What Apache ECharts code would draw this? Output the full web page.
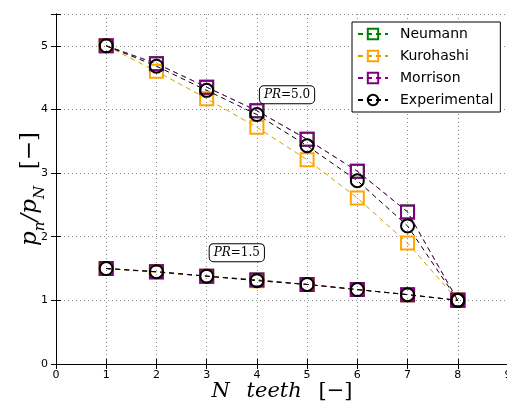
<!DOCTYPE html>
<html>
<head>
<meta charset="utf-8">
<script src="https://cdn.jsdelivr.net/npm/echarts@6/dist/echarts.min.js"></script>
<style>
  html, body { margin: 0; padding: 0; background: #fff; }
  #chart { width: 507px; height: 407px; }
</style>
</head>
<body>
<div id="chart"></div>
<script>
// Number of teeth
const teeth = [1, 2, 3, 4, 5, 6, 7, 8];

// Pressure ratio PR = 5.0
const neumann50     = [5.00, 4.72, 4.35, 3.98, 3.53, 3.03, 2.39, 1.00];
const kurohashi50   = [5.00, 4.60, 4.17, 3.72, 3.21, 2.61, 1.90, 1.00];
const morrison50    = [5.00, 4.72, 4.35, 3.98, 3.53, 3.03, 2.39, 1.00];
const experiment50  = [5.00, 4.68, 4.30, 3.92, 3.43, 2.88, 2.17, 1.00];

// Pressure ratio PR = 1.5
const neumann15     = [1.50, 1.45, 1.38, 1.32, 1.25, 1.17, 1.09, 1.00];
const kurohashi15   = [1.50, 1.44, 1.38, 1.31, 1.25, 1.17, 1.09, 1.00];
const morrison15    = [1.50, 1.45, 1.38, 1.32, 1.25, 1.17, 1.09, 1.00];
const experiment15  = [1.50, 1.45, 1.38, 1.31, 1.25, 1.17, 1.09, 1.00];

const xTicks = [0, 1, 2, 3, 4, 5, 6, 7, 8, 9];
const yTicks = [0, 1, 2, 3, 4, 5];

const pairs = (ys) => teeth.map((x, i) => [x, ys[i]]);

const models = [
  { name: 'Neumann',      sets: [neumann50, neumann15],       line: '#008000', edge: '#008000', symbol: 'rect' },
  { name: 'Kurohashi',    sets: [kurohashi50, kurohashi15],   line: '#d4a000', edge: '#ffa500', symbol: 'rect' },
  { name: 'Morrison',     sets: [morrison50, morrison15],     line: '#800080', edge: '#800080', symbol: 'rect' },
  { name: 'Experimental', sets: [experiment50, experiment15], line: '#000000', edge: '#000000', symbol: 'circle' }
];

const series = [];
models.forEach((m) => {
  m.sets.forEach((ys) => {
    series.push({
      name: m.name,
      type: 'line',
      data: pairs(ys),
      symbol: m.symbol,
      symbolSize: 13,
      showAllSymbol: true,
      lineStyle: { color: m.line, width: 1, type: [5, 4] },
      itemStyle: { color: 'rgba(255,255,255,0)', borderColor: m.edge, borderWidth: 2 },
      emphasis: { disabled: true },
      animation: false,
      z: 2
    });
  });
});

const serif = '"DejaVu Serif", "Liberation Serif", serif';
const sans = '"DejaVu Sans", sans-serif';

const chart = echarts.init(document.getElementById('chart'));

const axisLineStyle = { lineStyle: { color: '#000', width: 1 } };

chart.setOption({
  backgroundColor: '#fff',
  animation: false,
  grid: { left: 56, top: 14, width: 452, height: 350, containLabel: false, outerBoundsMode: 'none' },
  legend: {
    orient: 'vertical',
    left: 352,
    top: 22,
    backgroundColor: '#fff',
    borderColor: '#000',
    borderWidth: 1,
    borderRadius: 0,
    padding: [5, 7, 5, 5],
    itemGap: 8,
    itemWidth: 30,
    itemHeight: 13,
    textStyle: { fontFamily: sans, fontSize: 14, color: '#000', padding: [0, 0, 0, 7] },
    data: models.map((m) => m.name)
  },
  xAxis: [
    {
      type: 'value', min: 0, max: 9, interval: 1,
      name: '{i|N}{g|     }{i|teeth}{g|     }{r|[−]}',
      nameLocation: 'middle', nameGap: 17, nameMoveOverlap: false,
      nameTextStyle: {
        rich: {
          i: { fontFamily: serif, fontStyle: 'italic', fontSize: 21, color: '#000' },
          r: { fontFamily: serif, fontSize: 21, color: '#000' },
          g: { fontSize: 12 }
        }
      },
      axisLine: axisLineStyle,
      axisTick: { inside: true, length: 5, lineStyle: { color: '#000' } },
      axisLabel: { fontFamily: sans, fontSize: 11, color: '#000', margin: 6 },
      splitLine: { show: true, lineStyle: { color: '#888', width: 1, type: [1, 3] } }
    },
    {
      type: 'value', min: 0, max: 9, interval: 1, position: 'top',
      axisLine: axisLineStyle,
      axisTick: { inside: true, length: 5, lineStyle: { color: '#000' } },
      axisLabel: { show: false },
      splitLine: { show: false }
    }
  ],
  yAxis: [
    {
      type: 'value', min: 0, max: 5.5, interval: 1,
      name: '{i|p}{s|n}{i|/p}{s|N}{g|     }{r|[−]}',
      nameLocation: 'middle', nameGap: 14, nameRotate: 90, nameMoveOverlap: false,
      nameTextStyle: {
        rich: {
          i: { fontFamily: serif, fontStyle: 'italic', fontSize: 23, color: '#000', verticalAlign: 'bottom' },
          s: { fontFamily: serif, fontStyle: 'italic', fontSize: 15, color: '#000', verticalAlign: 'bottom', padding: [0, 0, -6, 0] },
          r: { fontFamily: serif, fontSize: 23, color: '#000', verticalAlign: 'bottom' },
          g: { fontSize: 12 }
        }
      },
      axisLine: axisLineStyle,
      axisTick: { inside: true, length: 5, lineStyle: { color: '#000' } },
      axisLabel: {
        fontFamily: sans, fontSize: 11, color: '#000', margin: 8,
        formatter: (v) => (yTicks.indexOf(v) >= 0 ? String(v) : '')
      },
      splitLine: { show: true, lineStyle: { color: '#888', width: 1, type: [1, 3] } }
    },
    {
      type: 'value', min: 0, max: 5.5, interval: 1, position: 'right',
      axisLine: axisLineStyle,
      axisTick: { inside: true, length: 5, lineStyle: { color: '#000' } },
      axisLabel: { show: false },
      splitLine: { show: false }
    }
  ],
  series: series
});

// Pressure-ratio annotations placed in data coordinates
const notes = [
  { x: 4.6, y: 4.23, text: '5.0' },
  { x: 3.6, y: 1.75, text: '1.5' }
];
chart.setOption({
  graphic: notes.map((n) => {
    const p = chart.convertToPixel({ xAxisIndex: 0, yAxisIndex: 0 }, [n.x, n.y]);
    return {
      type: 'text',
      x: p[0], y: p[1], z: 10,
      style: {
        text: '{i|PR}{r|=' + n.text + '}',
        align: 'center', verticalAlign: 'middle',
        backgroundColor: '#fff',
        borderColor: '#000', borderWidth: 1, borderRadius: 4,
        padding: [3, 4, 2, 4],
        rich: {
          i: { fontFamily: serif, fontStyle: 'italic', fontSize: 12, fill: '#000' },
          r: { fontFamily: serif, fontSize: 12, fill: '#000' }
        }
      }
    };
  })
});
</script>
</body>
</html>
